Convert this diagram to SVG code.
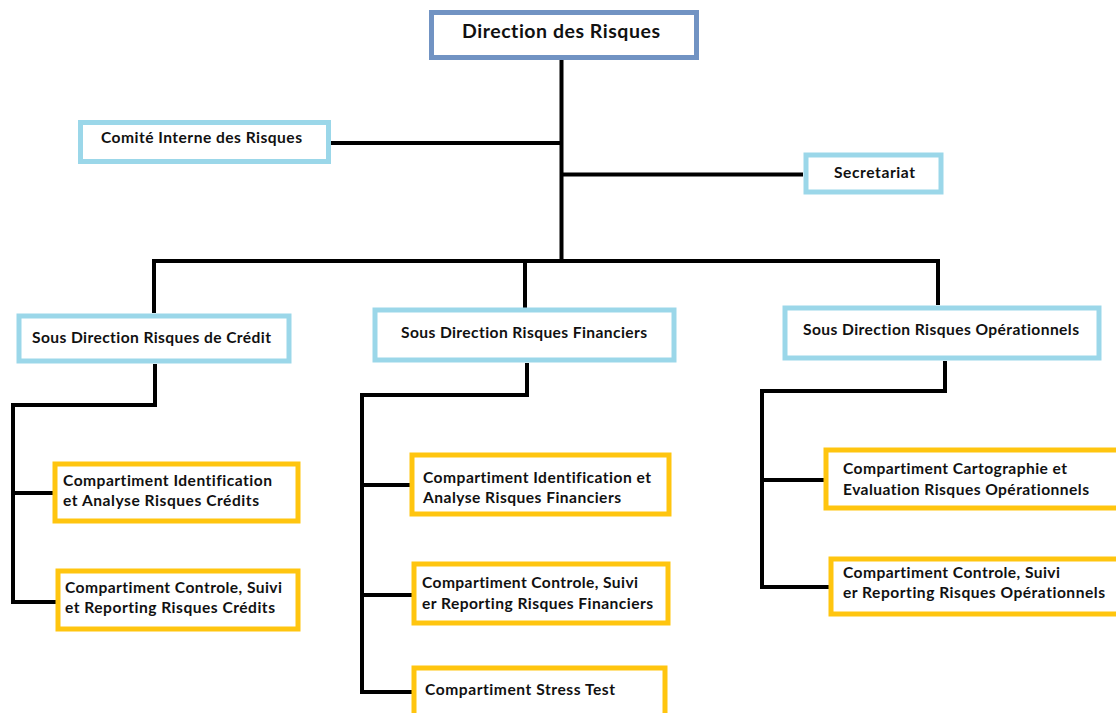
<svg xmlns="http://www.w3.org/2000/svg" width="1116" height="713" viewBox="0 0 1116 713">
<style>
.box{fill:#fff;stroke-width:5}
.top{stroke:#7193c3}
.lb{stroke:#9bd7e9}
.gold{stroke:#ffc50f}
.t{font-family:Lato,"Open Sans","Liberation Sans",sans-serif;font-weight:bold;fill:#111;font-variant-ligatures:none}
.s15{font-size:15.6px}
.s19{font-size:19.5px}
.c{fill:none;stroke:#000;stroke-width:4;stroke-linejoin:miter;stroke-linecap:butt}
</style>
<rect width="1116" height="713" fill="#fff"/>
<g id="connectors">
<line class="c" x1="561.5" y1="60" x2="561.5" y2="263"/>
<line class="c" x1="330" y1="143" x2="561.5" y2="143"/>
<line class="c" x1="561.5" y1="174.5" x2="803" y2="174.5"/>
<polyline class="c" points="154,313 154,261 938,261 938,305"/>
<line class="c" x1="525" y1="261" x2="525" y2="308"/>
<polyline class="c" points="155,364 155,405 13,405 13,602 56,602"/>
<line class="c" x1="13" y1="493" x2="53" y2="493"/>
<polyline class="c" points="527,363 527,395 362,395 362,692 412,692"/>
<line class="c" x1="362" y1="485" x2="410" y2="485"/>
<line class="c" x1="362" y1="595" x2="412" y2="595"/>
<polyline class="c" points="945,361 945,391 762,391 762,587 829,587"/>
<line class="c" x1="762" y1="480" x2="824" y2="480"/>
</g>
<g id="direction">
<rect class="box top" x="431.5" y="12.5" width="265" height="45"/>
<text class="t s19" x="462" y="38" textLength="198">Direction des Risques</text>
</g>
<g id="comite">
<rect class="box lb" x="80.5" y="122.5" width="248" height="39"/>
<text class="t s15" x="101" y="143" textLength="201">Comité Interne des Risques</text>
</g>
<g id="secretariat">
<rect class="box lb" x="806" y="155" width="135" height="37"/>
<text class="t s15" x="834" y="178" textLength="81">Secretariat</text>
</g>
<g id="sd-credit">
<rect class="box lb" x="19" y="316" width="270" height="45"/>
<text class="t s15" x="32" y="343" textLength="239">Sous Direction Risques de Crédit</text>
</g>
<g id="sd-financiers">
<rect class="box lb" x="375" y="310" width="299" height="50"/>
<text class="t s15" x="401" y="338" textLength="246">Sous Direction Risques Financiers</text>
</g>
<g id="sd-operationnels">
<rect class="box lb" x="785" y="308" width="314" height="50"/>
<text class="t s15" x="803" y="335" textLength="276">Sous Direction Risques Opérationnels</text>
</g>
<g id="c-ident-credit">
<rect class="box gold" x="55" y="464" width="243" height="57"/>
<text class="t s15" x="63" y="486" textLength="209">Compartiment Identification</text>
<text class="t s15" x="63" y="506" textLength="196">et Analyse Risques Crédits</text>
</g>
<g id="c-controle-credit">
<rect class="box gold" x="58" y="571" width="240" height="58"/>
<text class="t s15" x="65" y="593" textLength="217">Compartiment Controle, Suivi</text>
<text class="t s15" x="65" y="613" textLength="210">et Reporting Risques Crédits</text>
</g>
<g id="c-ident-fin">
<rect class="box gold" x="412" y="455" width="257" height="59"/>
<text class="t s15" x="423" y="483" textLength="228">Compartiment Identification et</text>
<text class="t s15" x="423" y="503" textLength="198">Analyse Risques Financiers</text>
</g>
<g id="c-controle-fin">
<rect class="box gold" x="414" y="564" width="254" height="59"/>
<text class="t s15" x="422" y="588" textLength="216">Compartiment Controle, Suivi</text>
<text class="t s15" x="422" y="609" textLength="231">er Reporting Risques Financiers</text>
</g>
<g id="c-stress">
<rect class="box gold" x="414" y="668" width="251" height="60"/>
<text class="t s15" x="425" y="695" textLength="190">Compartiment Stress Test</text>
</g>
<g id="c-carto">
<rect class="box gold" x="826" y="450" width="300" height="58"/>
<text class="t s15" x="843" y="474" textLength="224">Compartiment Cartographie et</text>
<text class="t s15" x="843" y="495" textLength="246">Evaluation Risques Opérationnels</text>
</g>
<g id="c-controle-op">
<rect class="box gold" x="831" y="559" width="300" height="55"/>
<text class="t s15" x="843" y="578" textLength="217">Compartiment Controle, Suivi</text>
<text class="t s15" x="843" y="598" textLength="262">er Reporting Risques Opérationnels</text>
</g>
</svg>
